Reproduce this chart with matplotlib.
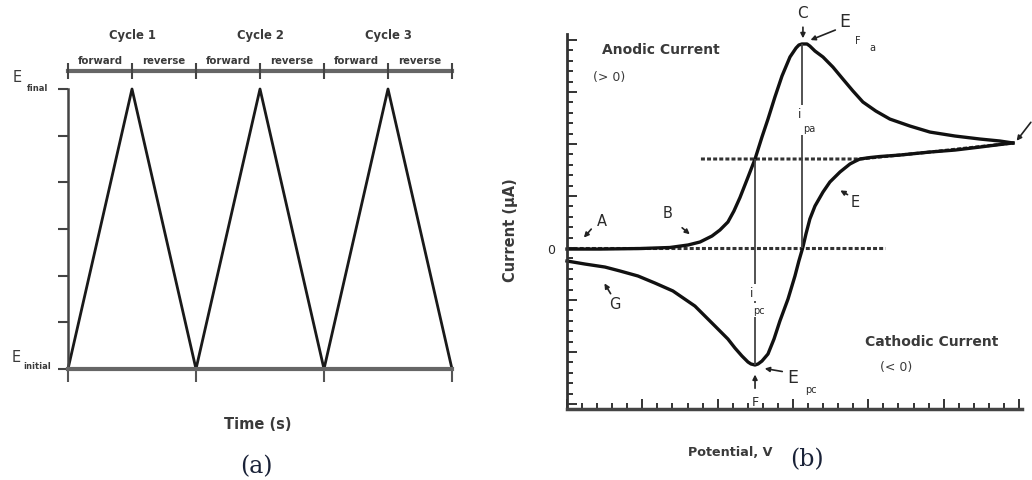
import numpy as np
import matplotlib
matplotlib.use('Agg')
import matplotlib.pyplot as plt
from matplotlib.ticker import MultipleLocator

plt.rcParams['font.family'] = ['DejaVu Sans']

# ---- panel (a): triangular potential waveform ----
t_vertex = [0, 1, 2, 3, 4, 5, 6]          # time, half-cycles
e_vertex = [0, 1, 0, 1, 0, 1, 0]          # 0 = E initial, 1 = E final
cycle_labels = ['Cycle 1', 'Cycle 2', 'Cycle 3']
sweep_labels = ['forward', 'reverse']

# ---- panel (b): cyclic voltammogram (arbitrary units) ----
pot_fwd = [0, 2.19, 4.84, 6.83, 8.03, 8.83, 9.62, 10.15, 10.68, 11.08, 11.48, 12.01,
           12.48, 12.94, 13.34, 13.80, 14.27, 14.80, 15.20, 15.39, 15.59, 15.93, 16.12,
           16.46, 16.99, 17.65, 18.31, 18.98, 19.64, 20.50, 21.43, 22.76, 24.09, 25.75,
           27.41, 28.73, 29.60]
cur_fwd = [-0.10, -0.10, -0.05, 0.05, 0.29, 0.58, 1.15, 1.73, 2.50, 3.56, 4.85, 6.80,
           8.56, 10.67, 12.40, 14.52, 16.54, 18.37, 19.23, 19.52, 19.62, 19.62, 19.42,
           18.94, 18.37, 17.40, 16.25, 15.10, 14.04, 13.17, 12.40, 11.73, 11.15, 10.77,
           10.48, 10.29, 10.10]
pot_rev = [29.60, 28.73, 27.41, 25.75, 24.09, 22.10, 20.77, 20.11, 19.44, 19.11, 18.78,
           18.12, 17.45, 16.99, 16.46, 16.12, 15.86, 15.66, 15.39, 15.13, 14.67, 14.13,
           13.74, 13.34, 12.94, 12.68, 12.48, 12.21, 12.01, 11.61, 11.15, 10.68, 9.82,
           8.49, 7.03, 5.84, 4.71, 3.52, 2.52, 1.19, 0]
cur_rev = [10.10, 9.95, 9.71, 9.42, 9.23, 8.94, 8.80, 8.70, 8.56, 8.33, 8.08, 7.31, 6.35,
           5.38, 4.04, 2.79, 1.35, 0.10, -1.25, -2.69, -4.90, -7.02, -8.75, -10.19,
           -10.87, -11.15, -11.25, -11.15, -10.96, -10.38, -9.62, -8.75, -7.50, -5.58,
           -4.13, -3.37, -2.69, -2.21, -1.83, -1.54, -1.25]
base_fwd_x = [0, 21.10]
base_fwd_y = [0, 0]
base_rev_x = [8.89, 19.44, 24.09, 29.60]
base_rev_y = [8.56, 8.56, 9.23, 10.10]

W, H = 1032, 481
fig = plt.figure(figsize=(W / 100, H / 100), dpi=100)

def px_axes(x0, y0, x1, y1):
    # pixel box (left, top, right, bottom) -> axes
    return fig.add_axes([x0 / W, 1 - y1 / H, (x1 - x0) / W, (y1 - y0) / H])

txt = '#2a2a2a'
gry = '#3a3a3a'
panel_col = '#1a2238'

# ================= (a) =================
ax1 = px_axes(68, 90, 452, 370)
ax1.plot(t_vertex, e_vertex, color='#1a1a1a', lw=2.0, clip_on=False)
ax1.set_xlim(0, 6)
ax1.set_ylim(0, 1)
for s in ['top', 'right']:
    ax1.spines[s].set_visible(False)
ax1.spines['left'].set_color('#444444')
ax1.spines['left'].set_linewidth(1.8)
ax1.spines['bottom'].set_color('#666666')
ax1.spines['bottom'].set_linewidth(3)
ax1.set_yticks(np.linspace(0, 1, 7))
ax1.set_xticks([0, 2, 4, 6])
ax1.tick_params(axis='y', direction='out', length=7, width=1.5, color='#444444',
                labelleft=False)
ax1.tick_params(axis='x', direction='out', length=9, width=1.5, color='#555555',
                labelbottom=False)

ybar = 1.064
ax1.plot([t_vertex[0], t_vertex[-1]], [ybar, ybar], color='#666666', lw=3, clip_on=False)
ax1.vlines(t_vertex, ybar - 0.03, ybar + 0.03, color='#444444', lw=1.5, clip_on=False)
for k, lab in enumerate(cycle_labels):
    ax1.text(2 * k + 1, 1.193, lab, ha='center', va='center', fontsize=8.4,
             fontweight='bold', color=gry, clip_on=False)
    for j, sl in enumerate(sweep_labels):
        ax1.text(2 * k + 0.5 + j, 1.104, sl, ha='center', va='center', fontsize=7.3,
                 fontweight='bold', color=gry, clip_on=False)

ax1.text(-0.79, 1.046, 'E', ha='center', va='center', fontsize=10.5, color=gry)
ax1.text(-0.48, 1.005, 'final', ha='center', va='center', fontsize=6,
         fontweight='bold', color=gry)
ax1.text(-0.81, 0.046, 'E', ha='center', va='center', fontsize=10.5, color=gry)
ax1.text(-0.48, 0.011, 'initial', ha='center', va='center', fontsize=6,
         fontweight='bold', color=gry)
ax1.text(2.97, -0.196, 'Time (s)', ha='center', va='center', fontsize=10.5,
         fontweight='bold', color=gry)
ax1.text(2.95, -0.345, '(a)', ha='center', va='center', fontsize=17,
         family='DejaVu Serif', color=panel_col)

# ================= (b) =================
ax2 = px_axes(567, 35, 1022, 410)
ax2.set_xlim(0, 30.2)
ax2.set_ylim(-15.48, 20.58)
for s in ['top', 'right']:
    ax2.spines[s].set_visible(False)
ax2.spines['left'].set_color('#333333')
ax2.spines['left'].set_linewidth(2)
ax2.spines['bottom'].set_color('#444444')
ax2.spines['bottom'].set_linewidth(2.5)
ax2.xaxis.set_major_locator(MultipleLocator(5))
ax2.xaxis.set_minor_locator(MultipleLocator(1))
ax2.yaxis.set_major_locator(MultipleLocator(5))
ax2.yaxis.set_minor_locator(MultipleLocator(1))
ax2.tick_params(which='major', direction='in', length=7, width=1.4, color='#333333',
                labelleft=False, labelbottom=False)
ax2.tick_params(which='minor', direction='in', length=4, width=1.4, color='#333333')

dots = (0, (1.3, 0.7))
ax2.plot(base_fwd_x, base_fwd_y, color='#333333', lw=2.2, ls=dots, clip_on=False)
ax2.plot(base_rev_x, base_rev_y, color='#333333', lw=2.2, ls=dots, clip_on=False)
ax2.plot(pot_fwd, cur_fwd, color='#111111', lw=2.4, clip_on=False,
         solid_joinstyle='round')
ax2.plot(pot_rev, cur_rev, color='#111111', lw=2.4, clip_on=False,
         solid_joinstyle='round')

# peak currents measured from the extrapolated baselines
ia = int(np.argmax(cur_fwd))
ic = int(np.argmin(cur_rev))
ax2.vlines(pot_fwd[ia], base_fwd_y[0], cur_fwd[ia], color='#444444', lw=1.3)
ax2.vlines(pot_rev[ic], cur_rev[ic], base_rev_y[0], color='#444444', lw=1.3)
wb = dict(facecolor='white', edgecolor='none', pad=1.5)
ax2.text(15.46, 12.9, 'i', ha='center', va='center', fontsize=8.5, color=txt, bbox=wb)
ax2.text(16.05, 11.5, 'pa', ha='center', va='center', fontsize=7, color=txt, bbox=wb)
ax2.text(12.28, -4.3, 'i', ha='center', va='center', fontsize=8.5, color=txt, bbox=wb)
ax2.text(12.75, -6.0, 'pc', ha='center', va='center', fontsize=7, color=txt, bbox=wb)

arr = dict(arrowstyle='-|>', color='#222222', lw=1.2, mutation_scale=7)
def mark(label, xy_text, xy_from, xy_to, size=10.5):
    if label:
        ax2.text(xy_text[0], xy_text[1], label, ha='center', va='center',
                 fontsize=size, color=txt, clip_on=False)
    ax2.annotate('', xy=xy_to, xytext=xy_from, arrowprops=arr, annotation_clip=False)

mark('C', (15.66, 22.6), (15.66, 21.5), (15.66, 19.9), 11)
mark('E', (18.45, 21.8), (17.98, 21.06), (15.99, 19.9), 12.5)
ax2.text(19.31, 20.05, 'F', fontsize=7, ha='center', va='center', color=txt)
ax2.text(20.3, 19.35, 'a', fontsize=7, ha='center', va='center', color=txt)
mark('', None, (30.9, 12.3), (29.73, 10.1))
mark('A', (2.32, 2.6), (1.73, 2.02), (1.0, 0.8))
mark('B', (6.70, 3.46), (7.50, 2.12), (8.29, 1.15))
mark('E', (19.11, 4.52), (18.78, 5.0), (17.98, 5.67))
mark('G', (3.19, -5.38), (2.99, -4.62), (2.39, -3.17))
mark('E', (15.0, -12.4), (14.47, -11.92), (12.94, -11.54), 12.5)
ax2.text(16.2, -13.6, 'pc', fontsize=7, ha='center', va='center', color=txt)
mark('F', (12.48, -14.75), (12.48, -13.75), (12.48, -11.9), 9)

ax2.text(2.32, 19.13, 'Anodic Current', ha='left', va='center', fontsize=10,
         fontweight='bold', color=gry)
ax2.text(1.73, 16.54, '(> 0)', ha='left', va='center', fontsize=9, color=gry)
ax2.text(19.77, -8.94, 'Cathodic Current', ha='left', va='center', fontsize=10,
         fontweight='bold', color=gry)
ax2.text(20.77, -11.44, '(< 0)', ha='left', va='center', fontsize=9, color=gry)
ax2.text(-3.72, 1.83, 'Current (\u00b5A)', ha='center', va='center', rotation=90,
         fontsize=10.5, fontweight='bold', color=gry, clip_on=False)
ax2.text(-1.06, -0.1, '0', ha='center', va='center', fontsize=9, color=txt)
ax2.text(10.82, -19.6, 'Potential, V', ha='center', va='center', fontsize=9.2,
         fontweight='bold', color=gry)
ax2.text(15.93, -20.3, '(b)', ha='center', va='center', fontsize=17,
         family='DejaVu Serif', color=panel_col)

fig.savefig('out.png', dpi=100)
